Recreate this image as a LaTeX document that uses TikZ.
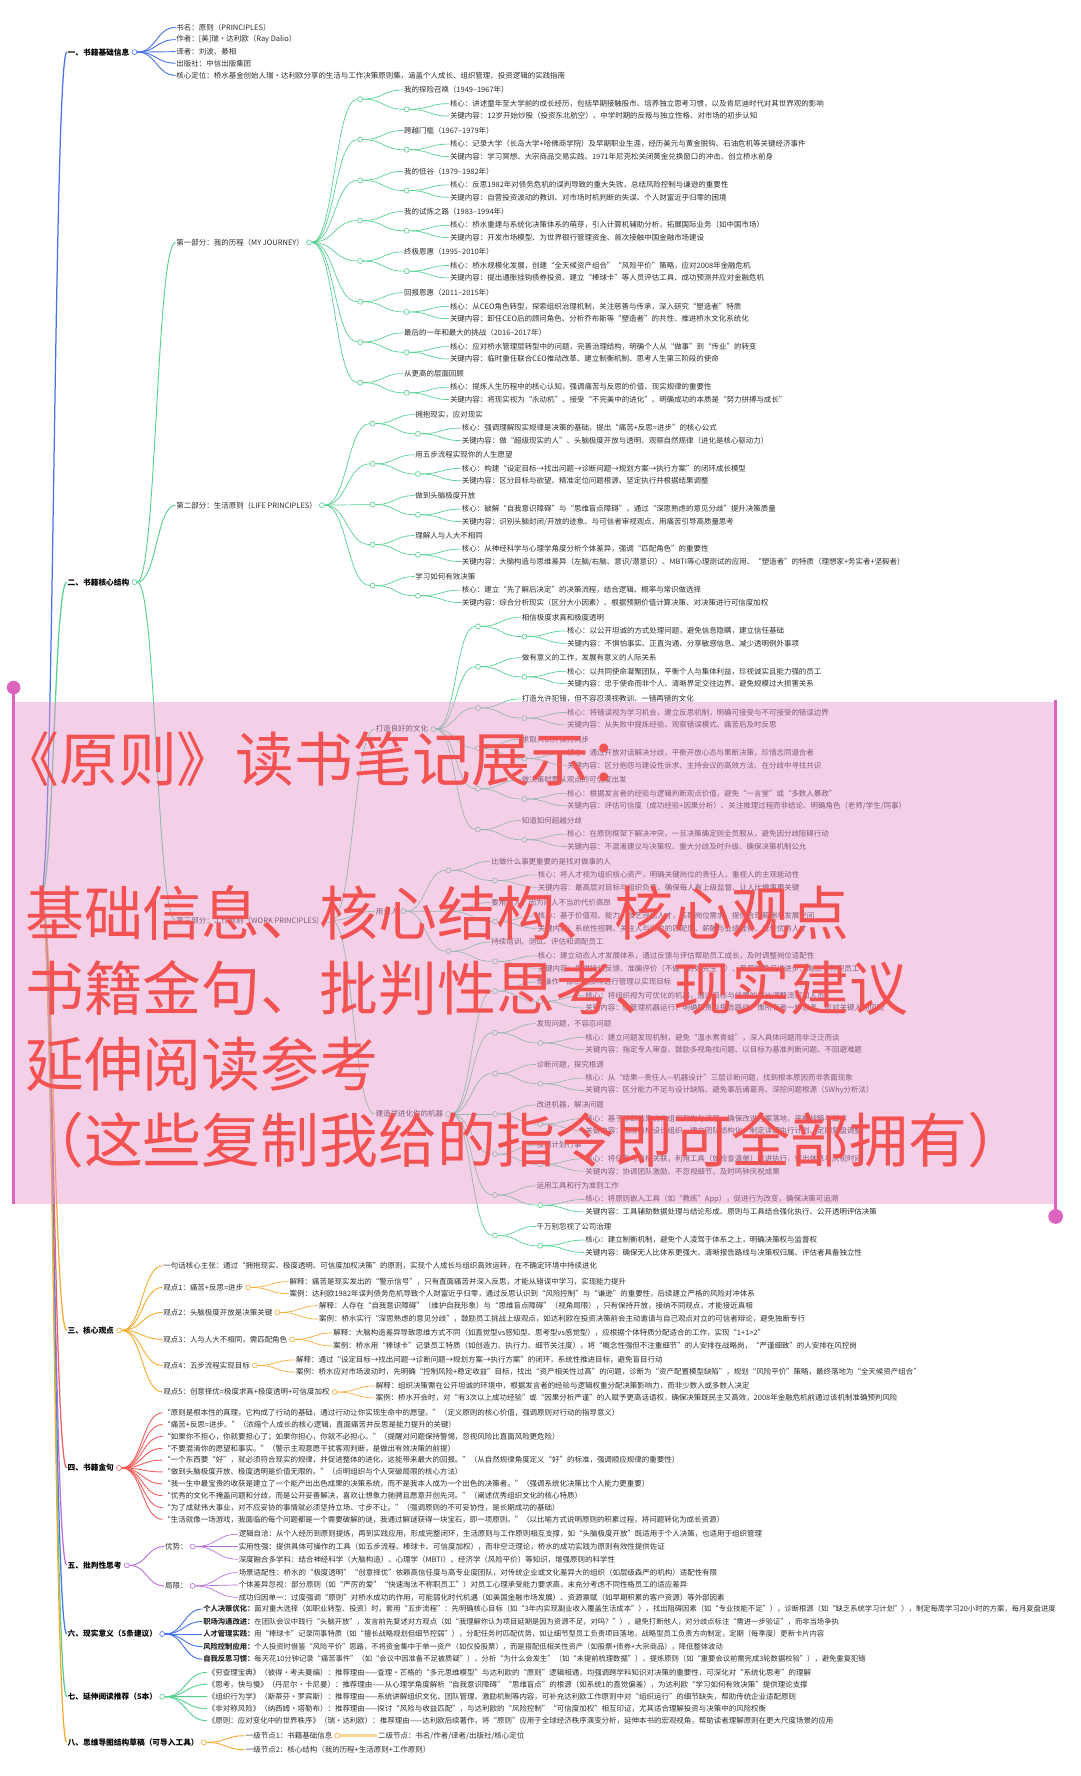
\documentclass[tikz,border=0pt]{standalone}
\usepackage{fontspec}
\setmainfont{Noto Sans CJK SC}
\usetikzlibrary{calc,positioning}
\definecolor{cB}{RGB}{70,115,230}
\definecolor{cG}{RGB}{85,208,145}
\definecolor{cO}{RGB}{245,170,50}
\definecolor{cR}{RGB}{240,95,95}
\definecolor{cP}{RGB}{185,110,220}
\definecolor{txt}{RGB}{45,45,45}
\definecolor{wm}{RGB}{243,82,82}
\definecolor{pinkov}{RGB}{230,150,205}
\definecolor{mag}{RGB}{220,100,190}
\definecolor{pale}{RGB}{248,215,150}
\def\cc{cB}
\tikzset{
 t/.style={anchor=west, inner sep=0.6pt, font=\fontsize{6.6}{7}\selectfont, text=txt},
 tn/.style={t, font=\fontsize{6.45}{7}\selectfont},
 sec/.style={anchor=west, inner sep=0.6pt, font=\bfseries\fontsize{6.8}{7}\selectfont, text=black},
 circ/.style={circle, draw=\cc, fill=white, line width=0.55pt, inner sep=0pt, minimum size=4.4pt},
 wmk/.style={anchor=west, inner sep=0pt, text=wm, font=\fontsize{52}{52}\selectfont},
}
\newcommand\lk[3][0.6pt]{\draw[draw=\cc, line width=#1] (#2) .. controls ($(#2)!0.5!(#2 -| #3)$) and ($(#3)!0.5!(#3 -| #2)$) .. (#3);}
\newcommand\ch[6]{%
 \node[circ] (#1) at (\xc,#2+8) {};
 \node[t] (#1t) at (\xt,#2) {#4};
 \node[circ] (#1s) at (\xs,#2+17) {};
 \node[t] (#1k) at (\xk,#2+12) {核心：#5};
 \node[t] (#1g) at (\xk,#2+23) {关键内容：#6};
 \lk{#3.east}{#1.west}
 \lk{#1.east}{#1t.west}
 \lk{#1.east}{#1s.west}
 \lk{#1s.east}{#1k.west}
 \lk{#1s.east}{#1g.west}
}
\begin{document}
\begin{tikzpicture}[x=1pt,y=-1pt]
\useasboundingbox (0,0) rectangle (954,1568);
\fill[white] (0,0) rectangle (954,1568);
\coordinate (root) at (36,790);

% ---------- Section 1
\def\cc{cB}
\node[sec] (s1) at (59,46) {一、书籍基础信息};
\node[circ, right=1.2pt of s1] (s1c) {};
\lk[1.1pt]{root}{s1.west}
\node[t] (i1) at (155,24.2) {书名：原则（PRINCIPLES）};
\node[t] (i2) at (155,35) {作者：[美]瑞·达利欧（Ray Dalio）};
\node[t] (i3) at (155,45.6) {译者：刘波、綦相};
\node[t] (i4) at (155,55.8) {出版社：中信出版集团};
\node[t] (i5) at (155,66.5) {核心定位：桥水基金创始人瑞·达利欧分享的生活与工作决策原则集，涵盖个人成长、组织管理、投资逻辑的实践指南};
\foreach \n in {i1,i2,i3,i4,i5} {\lk[0.8pt]{s1c.east}{\n.west}}

% ---------- Section 2
\def\cc{cG}
\node[sec] (s2) at (59,514) {二、书籍核心结构};
\node[circ, right=1.2pt of s2] (s2c) {};
\lk[1.1pt]{root}{s2.west}
\node[t] (p1) at (155,214) {第一部分：我的历程（MY JOURNEY）};
\node[circ, right=1.2pt of p1] (p1c) {};
\node[t] (p2) at (155,446) {第二部分：生活原则（LIFE PRINCIPLES）};
\node[circ, right=1.2pt of p2] (p2c) {};
\node[t] (p3) at (155,812.5) {第三部分：工作原则（WORK PRINCIPLES）};
\node[circ, right=1.2pt of p3] (p3c) {};
\foreach \n in {p1,p2,p3} {\lk[0.8pt]{s2c.east}{\n.west}}

\def\xc{318}\def\xt{356}\def\xs{359}\def\xk{396.5}
\ch{a1}{79.5}{p1c}{我的探险召唤（1949–1967年）}{讲述童年至大学前的成长经历，包括早期接触股市、培养独立思考习惯，以及肯尼迪时代对其世界观的影响}{12岁开始炒股（投资东北航空）、中学时期的反叛与独立性格、对市场的初步认知}
\ch{a2}{115.2}{p1c}{跨越门槛（1967–1979年）}{记录大学（长岛大学+哈佛商学院）及早期职业生涯，经历美元与黄金脱钩、石油危机等关键经济事件}{学习冥想、大宗商品交易实践、1971年尼克松关闭黄金兑换窗口的冲击、创立桥水前身}
\ch{a3}{151.2}{p1c}{我的低谷（1979–1982年）}{反思1982年对债务危机的误判导致的重大失败，总结风险控制与谦逊的重要性}{自营投资波动的教训、对市场时机判断的失误、个人财富近乎归零的困境}
\ch{a4}{186.8}{p1c}{我的试炼之路（1983–1994年）}{桥水重建与系统化决策体系的萌芽，引入计算机辅助分析，拓展国际业务（如中国市场）}{开发市场模型、为世界银行管理资金、首次接触中国金融市场建设}
\ch{a5}{222.4}{p1c}{终极恩惠（1995–2010年）}{桥水规模化发展，创建“全天候资产组合”“风险平价”策略，应对2008年金融危机}{提出通胀挂钩债券投资、建立“棒球卡”等人员评估工具、成功预测并应对金融危机}
\ch{a6}{258.4}{p1c}{回报恩惠（2011–2015年）}{从CEO角色转型，探索组织治理机制，关注慈善与传承，深入研究“塑造者”特质}{卸任CEO后的顾问角色、分析乔布斯等“塑造者”的共性、推进桥水文化系统化}
\ch{a7}{294}{p1c}{最后的一年和最大的挑战（2016–2017年）}{应对桥水管理层转型中的问题，完善治理结构，明确个人从“做事”到“传业”的转变}{临时重任联合CEO推动改革、建立制衡机制、思考人生第三阶段的使命}
\ch{a8}{329.8}{p1c}{从更高的层面回顾}{提炼人生历程中的核心认知，强调痛苦与反思的价值、现实规律的重要性}{将现实视为“永动机”、接受“不完美中的进化”、明确成功的本质是“努力拼搏与成长”}

\def\xc{329}\def\xt{366}\def\xs{369}\def\xk{407}
\ch{l1}{366}{p2c}{拥抱现实，应对现实}{强调理解现实规律是决策的基础，提出“痛苦+反思=进步”的核心公式}{做“超级现实的人”、头脑极度开放与透明、观察自然规律（进化是核心驱动力）}
\ch{l2}{401.5}{p2c}{用五步流程实现你的人生愿望}{构建“设定目标→找出问题→诊断问题→规划方案→执行方案”的闭环成长模型}{区分目标与欲望、精准定位问题根源、坚定执行并根据结果调整}
\ch{l3}{437.5}{p2c}{做到头脑极度开放}{破解“自我意识障碍”与“思维盲点障碍”，通过“深思熟虑的意见分歧”提升决策质量}{识别头脑封闭/开放的迹象、与可信者审视观点、用痛苦引导高质量思考}
\ch{l4}{472.8}{p2c}{理解人与人大不相同}{从神经科学与心理学角度分析个体差异，强调“匹配角色”的重要性}{大脑构造与思维差异（左脑/右脑、意识/潜意识）、MBTI等心理测试的应用、“塑造者”的特质（理想家+务实者+坚毅者）}
\ch{l5}{509}{p2c}{学习如何有效决策}{建立“先了解后决定”的决策流程，结合逻辑、概率与常识做选择}{综合分析现实（区分大小因素）、根据预期价值计算决策、对决策进行可信度加权}

\node[t] (g1) at (331,643.7) {打造良好的文化};
\node[circ, right=1.2pt of g1] (g1c) {};
\node[t] (g2) at (331,804.5) {用对人};
\node[circ, right=1.2pt of g2] (g2c) {};
\node[t] (g3) at (331,983.5) {建造并进化你的机器};
\node[circ, right=1.2pt of g3] (g3c) {};
\foreach \n in {g1,g2,g3} {\lk{p3c.east}{\n.west}}

\def\xc{422}\def\xt{460}\def\xs{463}\def\xk{500}
\ch{c1}{545}{g1c}{相信极度求真和极度透明}{以公开坦诚的方式处理问题，避免信息隐瞒，建立信任基础}{不惧怕事实、正直沟通、分享敏感信息、减少透明例外事项}
\ch{c2}{580.6}{g1c}{做有意义的工作，发展有意义的人际关系}{以共同使命凝聚团队，平衡个人与集体利益，珍视诚实且能力强的员工}{忠于使命而非个人、清晰界定交往边界、避免规模过大损害关系}
\ch{c3}{617}{g1c}{打造允许犯错，但不容忍漠视教训、一错再错的文化}{将错误视为学习机会，建立反思机制，明确可接受与不可接受的错误边界}{从失败中提炼经验、观察错误模式、痛苦后及时反思}
\ch{c4}{652.6}{g1c}{求取共识并保持同步}{通过开放对话解决分歧，平衡开放心态与果断决策，珍惜志同道合者}{区分抱怨与建设性诉求、主持会议的高效方法、在分歧中寻找共识}
\ch{c5}{688.4}{g1c}{做决策时要从观点的可信度出发}{根据发言者的经验与逻辑判断观点价值，避免“一言堂”或“多数人暴政”}{评估可信度（成功经验+因果分析）、关注推理过程而非结论、明确角色（老师/学生/同事）}
\ch{c6}{724.4}{g1c}{知道如何超越分歧}{在原则框架下解决冲突，一旦决策确定则全员服从，避免因分歧阻碍行动}{不混淆建议与决策权、重大分歧及时升级、确保决策机制公允}

\def\xc{396}\def\xt{433}\def\xs{437}\def\xk{474}
\ch{r1}{760.4}{g2c}{比做什么事更重要的是找对做事的人}{将人才视为组织核心资产，明确关键岗位的责任人，重视人的主观能动性}{最高层对目标与组织负责、确保每人有上级监督、让人比做事更关键}
\ch{r2}{796.6}{g2c}{要用对人，因为用人不当的代价高昂}{基于价值观、能力、技艺评估人才，匹配岗位需求，提供合理薪酬与发展空间}{系统性招聘、关注人与岗位的匹配度、薪酬与业绩挂钩、留住优秀人才}
\ch{r3}{831.8}{g2c}{持续培训、测试、评估和调配员工}{建立动态人才发展体系，通过反馈与评估帮助员工成长，及时调整岗位适配性}{提供持续反馈、准确评价（不做“好好先生”）、严厉的爱促进进步、淘汰不称职员工}

\def\xc{437}\def\xt{473}\def\xs{477}\def\xk{516}
\ch{m1}{867}{g3c}{像操作一部机器那样进行管理以实现目标}{将组织视为可优化的机器，通过目标与结果的对比调整流程和人员}{像管理机器运行、明确职责与报告路线、像所有者一样思考、应对关键人物风险}
\ch{m2}{903.8}{g3c}{发现问题，不容忍问题}{建立问题发现机制，避免“温水煮青蛙”，深入具体问题而非泛泛而谈}{指定专人审查、鼓励多视角找问题、以目标为基准判断问题、不回避难题}
\ch{m3}{939.8}{g3c}{诊断问题，探究根源}{从“结果—责任人—机器设计”三层诊断问题，找到根本原因而非表面现象}{区分能力不足与设计缺陷、避免事后诸葛亮、深挖问题根源（5Why分析法）}
\ch{m4}{975.5}{g3c}{改进机器，解决问题}{基于诊断结果优化组织架构与流程，确保改进方案落地，平衡战略与战术}{围绕目标设计组织、建立团队结构化、制定详细执行计划、定期复盘调整}
\ch{m5}{1011}{g3c}{按照计划行事}{将任务与目标关联，利用工具（如检查清单）推进执行，留出休息与庆祝时间}{协调团队激励、不忽视细节、及时鸣钟庆祝成果}
\ch{m6}{1047}{g3c}{运用工具和行为准则工作}{将原则嵌入工具（如“教练”App），促进行为改变，确保决策可追溯}{工具辅助数据处理与结论形成、原则与工具结合强化执行、公开透明评估决策}
\ch{m7}{1082.8}{g3c}{千万别忽视了公司治理}{建立制衡机制，避免个人凌驾于体系之上，明确决策权与监督权}{确保无人比体系更强大、清晰报告路线与决策权归属、评估者具备独立性}

% ---------- Section 3
\def\cc{cO}
\node[sec] (s3) at (59,1174.6) {三、核心观点};
\node[circ, right=1.2pt of s3] (s3c) {};
\lk[1.1pt]{root}{s3.west}
\node[t] (k0) at (143.5,1117.5) {一句话核心主张：通过“拥抱现实、极度透明、可信度加权决策”的原则，实现个人成长与组织高效运转，在不确定环境中持续进化};
\node[t] (v1) at (143.5,1136.6) {观点1：痛苦+反思=进步};
\node[circ, right=1.2pt of v1] (v1c) {};
\node[t] (v1a) at (255,1131.5) {解释：痛苦是现实发出的“警示信号”，只有直面痛苦并深入反思，才能从错误中学习，实现能力提升};
\node[t] (v1b) at (255,1142.2) {案例：达利欧1982年误判债务危机导致个人财富近乎归零，通过反思认识到“风险控制”与“谦逊”的重要性，后续建立严格的风险对冲体系};
\node[t] (v2) at (143.5,1158.7) {观点2：头脑极度开放是决策关键};
\node[circ, right=1.2pt of v2] (v2c) {};
\node[t] (v2a) at (281,1152.8) {解释：人存在“自我意识障碍”（维护自我形象）与“思维盲点障碍”（视角局限），只有保持开放，接纳不同观点，才能接近真相};
\node[t] (v2b) at (281,1164.6) {案例：桥水实行“深思熟虑的意见分歧”，鼓励员工挑战上级观点，如达利欧在投资决策前会主动邀请与自己观点对立的可信者辩论，避免独断专行};
\node[t] (v3) at (143.5,1182.5) {观点3：人与人大不相同，需匹配角色};
\node[circ, right=1.2pt of v3] (v3c) {};
\node[t] (v3a) at (293.6,1176.8) {解释：大脑构造差异导致思维方式不同（如直觉型vs感知型、思考型vs感觉型），应根据个体特质分配适合的工作，实现“1+1>2”};
\node[t] (v3b) at (293.6,1188.4) {案例：桥水用“棒球卡”记录员工特质（如创造力、执行力、细节关注度），将“概念性强但不注重细节”的人安排在战略岗，“严谨细致”的人安排在风控岗};
\node[t] (v4) at (143.5,1205.5) {观点4：五步流程实现目标};
\node[circ, right=1.2pt of v4] (v4c) {};
\node[t] (v4a) at (260.7,1200.6) {解释：通过“设定目标→找出问题→诊断问题→规划方案→执行方案”的闭环，系统性推进目标，避免盲目行动};
\node[t] (v4b) at (260.7,1211.4) {案例：桥水应对市场波动时，先明确“控制风险+稳定收益”目标，找出“资产相关性过高”的问题，诊断为“资产配置模型缺陷”，规划“风险平价”策略，最终落地为“全天候资产组合”};
\node[t] (v5) at (143.5,1229) {观点5：创意择优=极度求真+极度透明+可信度加权};
\node[circ, right=1.2pt of v5] (v5c) {};
\node[t] (v5a) at (331,1223.6) {解释：组织决策需在公开坦诚的环境中，根据发言者的经验与逻辑权重分配决策影响力，而非少数人或多数人决定};
\node[t] (v5b) at (331,1234.2) {案例：桥水开会时，对“有3次以上成功经验”或“因果分析严谨”的人赋予更高话语权，确保决策既民主又高效，2008年金融危机前通过该机制准确预判风险};
\foreach \n in {k0,v1,v2,v3,v4,v5} {\lk[0.8pt]{s3c.east}{\n.west}}
\foreach \n in {v1,v2,v3,v4,v5} {\lk{\n c.east}{\n a.west}\lk{\n c.east}{\n b.west}}

% ---------- Section 4
\def\cc{cR}
\node[sec] (s4) at (59,1296) {四、书籍金句};
\node[circ, right=1.2pt of s4] (s4c) {};
\lk[1.1pt]{root}{s4.west}
\node[t] (q1) at (143.5,1247.3) {“原则是根本性的真理，它构成了行动的基础，通过行动让你实现生命中的愿望。”（定义原则的核心价值，强调原则对行动的指导意义）};
\node[t] (q2) at (143.5,1257.7) {“痛苦+反思=进步。”（浓缩个人成长的核心逻辑，直面痛苦并反思是能力提升的关键）};
\node[t] (q3) at (143.5,1268.2) {“如果你不担心，你就要担心了；如果你担心，你就不必担心。”（提醒对问题保持警惕，忽视风险比直面风险更危险）};
\node[t] (q4) at (143.5,1278.7) {“不要混淆你的愿望和事实。”（警示主观意愿干扰客观判断，是做出有效决策的前提）};
\node[t] (q5) at (143.5,1289.1) {“一个东西要“好”，就必须符合现实的规律，并促进整体的进化，这能带来最大的回报。”（从自然规律角度定义“好”的标准，强调顺应规律的重要性）};
\node[t] (q6) at (143.5,1299.5) {“做到头脑极度开放、极度透明是价值无限的。”（点明组织与个人突破局限的核心方法）};
\node[t] (q7) at (143.5,1310) {“我一生中最宝贵的收获是建立了一个能产出出色成果的决策系统，而不是我本人成为一个出色的决策者。”（强调系统化决策比个人能力更重要）};
\node[t] (q8) at (143.5,1320.5) {“优秀的文化不掩盖问题和分歧，而是公开妥善解决，喜欢让想象力驰骋且愿意开创先河。”（阐述优秀组织文化的核心特质）};
\node[t] (q9) at (143.5,1331) {“为了成就伟大事业，对不应妥协的事情就必须坚持立场、寸步不让。”（强调原则的不可妥协性，是长期成功的基础）};
\node[t] (q10) at (143.5,1341.4) {“生活就像一场游戏，我面临的每个问题都是一个需要破解的谜，我通过解谜获得一块宝石，即一项原则。”（以比喻方式说明原则的积累过程，将问题转化为成长资源）};
\foreach \n in {q1,q2,q3,q4,q5,q6,q7,q8,q9,q10} {\lk[0.8pt]{s4c.east}{\n.west}}

% ---------- Section 5
\def\cc{cP}
\node[sec] (s5) at (59,1382) {五、批判性思考};
\node[circ, right=1.2pt of s5] (s5c) {};
\lk[1.1pt]{root}{s5.west}
\node[t] (u1) at (145,1365.4) {优势：};
\node[circ, right=1.2pt of u1] (u1c) {};
\node[t] (u2) at (145,1400.2) {局限：};
\node[circ, right=1.2pt of u2] (u2c) {};
\lk[0.8pt]{s5c.east}{u1.west}
\lk[0.8pt]{s5c.east}{u2.west}
\node[t] (u1a) at (210,1354.5) {逻辑自洽：从个人经历到原则提炼，再到实践应用，形成完整闭环，生活原则与工作原则相互支撑，如“头脑极度开放”既适用于个人决策，也适用于组织管理};
\node[t] (u1b) at (210,1365.4) {实用性强：提供具体可操作的工具（如五步流程、棒球卡、可信度加权），而非空泛理论，桥水的成功实践为原则有效性提供佐证};
\node[t] (u1d) at (210,1376.6) {深度融合多学科：结合神经科学（大脑构造）、心理学（MBTI）、经济学（风险平价）等知识，增强原则的科学性};
\node[t] (u2a) at (210,1388.4) {场景适配性：桥水的“极度透明”“创意择优”依赖高信任度与高专业度团队，对传统企业或文化差异大的组织（如层级森严的机构）适配性有限};
\node[t] (u2b) at (210,1399.3) {个体差异忽视：部分原则（如“严厉的爱”“快速淘汰不称职员工”）对员工心理承受能力要求高，未充分考虑不同性格员工的适应差异};
\node[t] (u2d) at (210,1410.2) {成功归因单一：过度强调“原则”对桥水成功的作用，可能弱化时代机遇（如美国金融市场发展）、资源禀赋（如早期积累的客户资源）等外部因素};
\foreach \n in {u1a,u1b,u1d} {\lk{u1c.east}{\n.west}}
\foreach \n in {u2a,u2b,u2d} {\lk{u2c.east}{\n.west}}

% ---------- Section 6
\def\cc{cB}
\node[sec] (s6) at (59,1442.6) {六、现实意义（5条建议）};
\node[circ, right=1.2pt of s6] (s6c) {};
\lk[1.1pt]{root}{s6.west}
\node[tn] (e1) at (178.7,1420.6) {\textbf{个人决策优化：}面对重大选择（如职业转型、投资）时，套用“五步流程”：先明确核心目标（如“3年内实现副业收入覆盖生活成本”），找出阻碍因素（如“专业技能不足”），诊断根源（如“缺乏系统学习计划”），制定每周学习20小时的方案，每月复盘进度};
\node[tn] (e2) at (178.7,1431.6) {\textbf{职场沟通改进：}在团队会议中践行“头脑开放”，发言前先复述对方观点（如“我理解你认为项目延期是因为资源不足，对吗？”），避免打断他人，对分歧点标注“需进一步验证”，而非当场争执};
\node[tn] (e3) at (178.7,1442.6) {\textbf{人才管理实践：}用“棒球卡”记录同事特质（如“擅长战略规划但细节控弱”），分配任务时匹配优势，如让细节型员工负责项目落地，战略型员工负责方向制定，定期（每季度）更新卡片内容};
\node[tn] (e4) at (178.7,1453.8) {\textbf{风险控制应用：}个人投资时借鉴“风险平价”思路，不将资金集中于单一资产（如仅投股票），而是搭配低相关性资产（如股票+债券+大宗商品），降低整体波动};
\node[tn] (e5) at (178.7,1464.8) {\textbf{自我反思习惯：}每天花10分钟记录“痛苦事件”（如“会议中因准备不足被质疑”），分析“为什么会发生”（如“未提前梳理数据”），提炼原则（如“重要会议前需完成3轮数据校验”），避免重复犯错};
\foreach \n in {e1,e2,e3,e4,e5} {\lk[0.8pt]{s6c.east}{\n.west}}

% ---------- Section 7
\def\cc{cG}
\node[sec] (s7) at (59,1498) {七、延伸阅读推荐（5本）};
\node[circ, right=1.2pt of s7] (s7c) {};
\lk[1.1pt]{root}{s7.west}
\node[t] (f1) at (182.8,1476.4) {《穷查理宝典》（彼得·考夫曼编）：推荐理由——查理·芒格的“多元思维模型”与达利欧的“原则”逻辑相通，均强调跨学科知识对决策的重要性，可深化对“系统化思考”的理解};
\node[t] (f2) at (182.8,1487.1) {《思考，快与慢》（丹尼尔·卡尼曼）：推荐理由——从心理学角度解析“自我意识障碍”“思维盲点”的根源（如系统1的直觉偏差），为达利欧“学习如何有效决策”提供理论支撑};
\node[t] (f3) at (182.8,1497.8) {《组织行为学》（斯蒂芬·罗宾斯）：推荐理由——系统讲解组织文化、团队管理、激励机制等内容，可补充达利欧工作原则中对“组织运行”的细节缺失，帮助传统企业适配原则};
\node[t] (f4) at (182.8,1508.5) {《非对称风险》（纳西姆·塔勒布）：推荐理由——探讨“风险与收益匹配”，与达利欧的“风险控制”“可信度加权”相互印证，尤其适合理解投资与决策中的风险权衡};
\node[t] (f5) at (182.8,1519.2) {《原则：应对变化中的世界秩序》（瑞·达利欧）：推荐理由——达利欧后续著作，将“原则”应用于全球经济秩序演变分析，延伸本书的宏观视角，帮助读者理解原则在更大尺度场景的应用};
\foreach \n in {f1,f2,f3,f4,f5} {\lk[0.8pt]{s7c.east}{\n.west}}

% ---------- Section 8
\def\cc{cO}
\node[sec] (s8) at (59,1538.3) {八、思维导图结构草稿（可导入工具）};
\node[circ, right=1.2pt of s8] (s8c) {};
\lk[1.1pt]{root}{s8.west}
\node[t] (n1) at (216.3,1532.4) {一级节点1：书籍基础信息};
\node[circ, right=1.2pt of n1] (n1c) {};
\node[t] (n1b) at (333,1532.4) {二级节点：书名/作者/译者/出版社/核心定位};
\node[t] (n2) at (216.3,1544.8) {一级节点2：核心结构（我的历程+生活原则+工作原则）};
\lk[0.8pt]{s8c.east}{n1.west}
\lk[0.8pt]{s8c.east}{n2.west}
\draw[pale, line width=2.2pt] (n1c.east) -- (n1b.west);

% ---------- overlay
\fill[pinkov, fill opacity=0.45] (12,620) rectangle (932,1063);
\draw[mag, line width=2.2pt] (12,607) -- (12,1063);
\fill[mag] (12,607) circle[radius=6pt];
\draw[mag, line width=2.2pt] (932,618) -- (932,1074);
\fill[mag] (932,1074) circle[radius=6.5pt];
\node[wmk] (w1) at (0,670) {《原则》读书笔记展示：};
\node[wmk] (w2) at (22,806) {基础信息、核心结构、核心观点};
\node[wmk] (w3) at (22,872.5) {书籍金句、批判性思考、现实建议};
\node[wmk] (w4) at (22,939.5) {延伸阅读参考};
\node[wmk] (w5) at (22,1007) {（这些复制我给的指令即可全部拥有）};
\end{tikzpicture}
\end{document}
